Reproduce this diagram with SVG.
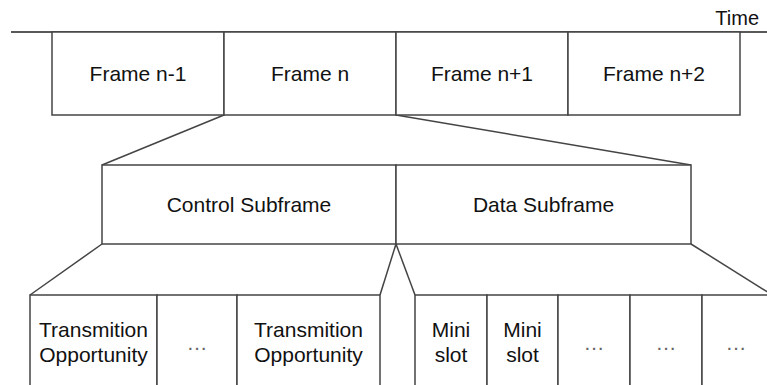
<svg xmlns="http://www.w3.org/2000/svg" width="767" height="385" viewBox="0 0 767 385">
<style>
.b{fill:#fff;stroke:#444;stroke-width:1.5}
.c{fill:none;stroke:#444;stroke-width:1.5}
text{font-family:"Liberation Sans",Arial,sans-serif;font-size:21px;fill:#111;text-anchor:middle}
.d{fill:#666}
</style>
<rect width="767" height="385" fill="#fff"/>
<g id="timeline">
<line class="c" x1="11" y1="32" x2="767" y2="32" style="stroke:#222"/>
<text x="759" y="25" style="text-anchor:end;font-size:20px">Time</text>
</g>
<g id="connectors">
<line class="c" x1="224" y1="115" x2="102" y2="165"/>
<line class="c" x1="396" y1="115" x2="691" y2="165"/>
<line class="c" x1="102" y1="244" x2="30" y2="295"/>
<line class="c" x1="396" y1="244" x2="380" y2="295"/>
<line class="c" x1="396" y1="244" x2="415" y2="295"/>
<line class="c" x1="691" y1="244" x2="777" y2="298"/>
</g>
<g id="frame-n-1"><rect class="b" x="52" y="32" width="172" height="83"/><text x="138" y="81">Frame n-1</text></g>
<g id="frame-n"><rect class="b" x="224" y="32" width="172" height="83"/><text x="310" y="81">Frame n</text></g>
<g id="frame-n+1"><rect class="b" x="396" y="32" width="172" height="83"/><text x="482" y="81">Frame n+1</text></g>
<g id="frame-n+2"><rect class="b" x="568" y="32" width="172" height="83"/><text x="654" y="81">Frame n+2</text></g>
<g id="control-subframe"><rect class="b" x="102" y="165" width="294" height="79"/><text x="249" y="212">Control Subframe</text></g>
<g id="data-subframe"><rect class="b" x="396" y="165" width="295" height="79"/><text x="543.5" y="212">Data Subframe</text></g>
<g id="tx-opp-1"><rect class="b" x="30" y="295" width="127" height="100"/><text x="93.5" y="337">Transmition</text><text x="93.5" y="362">Opportunity</text></g>
<g id="tx-dots"><rect class="b" x="157" y="295" width="80" height="100"/><text class="d" x="197" y="350">…</text></g>
<g id="tx-opp-2"><rect class="b" x="237" y="295" width="143" height="100"/><text x="308.5" y="337">Transmition</text><text x="308.5" y="362">Opportunity</text></g>
<g id="mini-slot-1"><rect class="b" x="415" y="295" width="72" height="100"/><text x="451" y="337">Mini</text><text x="451" y="362">slot</text></g>
<g id="mini-slot-2"><rect class="b" x="487" y="295" width="71" height="100"/><text x="522.5" y="337">Mini</text><text x="522.5" y="362">slot</text></g>
<g id="slot-dots-1"><rect class="b" x="558" y="295" width="72" height="100"/><text class="d" x="594" y="350">…</text></g>
<g id="slot-dots-2"><rect class="b" x="630" y="295" width="72" height="100"/><text class="d" x="666" y="350">…</text></g>
<g id="slot-dots-3"><rect class="b" x="702" y="295" width="75" height="100"/><text class="d" x="736" y="350">…</text></g>
</svg>
